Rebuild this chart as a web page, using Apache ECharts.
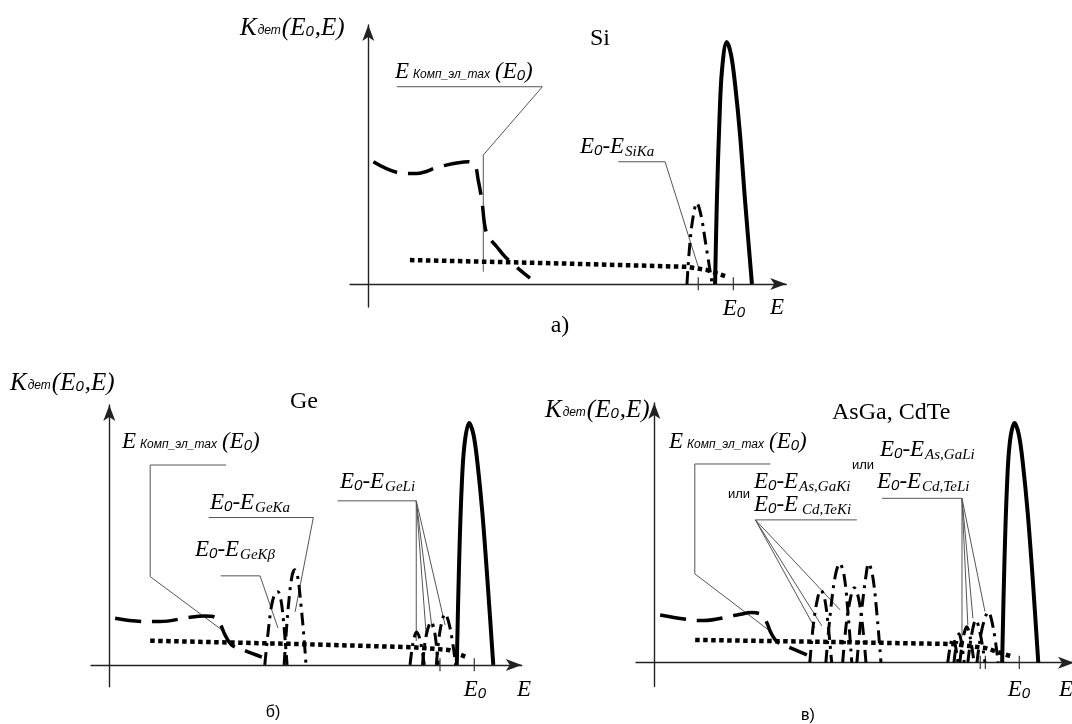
<!DOCTYPE html>
<html><head><meta charset="utf-8">
<script src="https://cdn.jsdelivr.net/npm/echarts@6/dist/echarts.min.js"></script>
<style>html,body{margin:0;padding:0;background:#fff}#c{width:1072px;height:724px}</style>
</head><body><div id="c"></div>
<script>
// ---------- Panel а) Si ----------
const siMainPeak = [[95.0,0],[95.5,34.7],[96.2,67.8],[96.9,88.4],[98.2,100],[99.4,94.6],[100.5,82.2],[101.8,62.4],[103.2,34.7],[105.1,0]];
const siCompton = [[1.4,50.5],[9.6,45.7],[13.3,45.7],[19.6,48.5],[27.4,50.5],[29.2,49.2],[30.1,43.0],[31.1,34.7],[32.4,21.0],[35.2,15.4],[37.9,10.6],[44.3,2.4]];
const siDots = [[11.4,9.9],[50,8.6],[87.2,7.1],[92.7,5.8],[98.2,3.0]];
const siEscapeKa = [[87.3,0],[88.0,15],[88.9,27],[90.0,33.5],[91.2,28],[92.4,17],[94.2,0]];
const siTicks = [90.4, 100];
const siLeaderCompton = [[7.8,81.5],[47.7,81.5],[31.5,53.3],[31.5,5.1]];
const siLeaderKa = [[68.5,50.5],[81.3,50.5],[90.4,7.1]];

// ---------- Panel б) Ge ----------
const geMainPeak = [[95.2,0],[95.8,40],[96.5,72],[97.3,91],[98.6,100],[99.8,95],[100.9,83],[102.2,63],[103.6,35],[105.2,0]];
const geCompton = [[1.6,19.3],[9.8,17.9],[13.9,17.9],[22.1,19.7],[26.2,20.2],[29.0,19.7],[30.3,17.2],[31.7,12.4],[33.5,8.3],[36.6,6.2],[41.8,3.2]];
const geDots = [[11.2,10.0],[50,8.7],[83.3,7.3],[92.9,6.2],[97.9,3.2]];
const geEscapeKb = [[42.6,0],[43.4,12],[44.4,24],[45.4,29.5],[46.2,30.2],[47.0,27],[47.8,17],[48.7,0]];
const geEscapeKa = [[47.9,0],[48.5,14],[49.3,28],[50.1,37],[50.8,39.3],[51.6,36.5],[52.5,25],[53.3,12],[53.9,0]];
const geEscapeL1 = [[82.4,0],[83.2,9],[84.2,13.6],[85.2,10],[86.3,0]];
const geEscapeL2 = [[85.8,0],[86.8,12],[88.2,17.8],[89.2,13],[90.1,0]];
const geEscapeL3 = [[89.6,0],[90.6,14],[92.0,21.1],[93.4,15],[94.9,0]];
const geTicks = [90.6, 100];
const geLeaderCompton = [[32.0,82.6],[11.2,82.6],[11.2,36.5],[30.8,14.5]];
const geLeaderKa = [[27.2,60.9],[55.9,60.9],[50.9,21.9]];
const geLeaderKb = [[30.5,36.8],[41.3,36.8],[46.2,15.3]];
const geLeaderL = [[62.5,67.8],[84.1,67.8],[84.1,9.9]];
const geLeaderLFan = [[86.8,12.8],[88.4,15.3],[92.0,16.5]];

// ---------- Panel в) AsGa, CdTe ----------
const asMainPeak = [[95.3,0],[95.9,40],[96.6,72],[97.4,91],[98.7,99],[99.9,94],[101.0,82],[102.3,62],[103.7,34],[105.2,0]];
const asCompton = [[1.6,19.7],[10.3,17.6],[13.5,17.4],[22.7,19.7],[26.8,20.7],[29.5,19.7],[30.9,16.3],[31.8,12.8],[33.6,8.7],[36.8,6.4],[41.8,3.2]];
const asDots = [[11.2,9.4],[50,8.5],[81.6,7.7],[90.6,6.1],[98.0,2.5]];
const asEscapeK1 = [[42.6,0],[43.6,16],[44.8,27],[45.6,30],[46.6,27],[47.6,16],[48.6,0]];
const asEscapeK2 = [[47.0,0],[48.2,20],[49.6,36],[50.8,41],[52.0,36],[53.1,20],[54.1,0]];
const asEscapeK3 = [[51.6,0],[52.6,16],[53.8,27],[54.8,31],[55.9,27],[57.0,16],[58.0,0]];
const asEscapeK4 = [[55.5,0],[56.7,20],[58.0,36],[58.7,41],[59.8,36],[61.0,20],[62.1,0]];
const asEscapeL1 = [[80.4,0],[81.1,7],[81.8,10.2],[82.5,7],[83.2,0]];
const asEscapeL2 = [[82.1,0],[82.8,8],[83.5,11.9],[84.2,8],[84.9,0]];
const asEscapeL3 = [[83.7,0],[84.6,10],[85.6,14.8],[86.6,10],[87.6,0]];
const asEscapeL4 = [[85.9,0],[87.0,12],[88.1,17.6],[89.3,12],[90.6,0]];
const asEscapeL5 = [[88.4,0],[89.8,14],[91.5,20.9],[92.9,14],[94.2,0]];
const asTicks = [89.3, 90.7, 100];
const asLeaderCompton = [[31.8,82.1],[11.1,82.1],[11.1,36.7],[31.3,13.5]];
const asLeaderK = [[55.5,59.0],[27.7,59.0]];
const asLeaderKFan = [[44.0,14.3],[45.9,15.2],[50.9,21.8]];
const asLeaderL = [[62.4,67.9],[84.3,67.9],[84.3,10.7]];
const asLeaderLFan = [[85.9,15.6],[87.3,18.3],[90.6,21.1]];

// ---------- layout ----------
const grids = [
  {left:350.05, top:25, width:436.2, height:282, xmin:-5, xmax:114.5, ymin:-9.5, ymax:107},
  {left:91.05, top:405, width:430.7, height:281.7, xmin:-5, xmax:113, ymin:-9.0, ymax:107.4},
  {left:636.05, top:403, width:438, height:283.6, xmin:-5, xmax:115, ymin:-9.9, ymax:107.3}
];

const series = [];
function curve(g, data, kind){
  const st = {
    main:{color:'#000', width:4, type:'solid'},
    compton:{color:'#000', width:3.5, type:[26,11]},
    dots:{color:'#000', width:4.5, type:[4.5,3.5]},
    dashdot:{color:'#000', width:3, type:[13,6,3,6]}
  }[kind];
  series.push({type:'line', xAxisIndex:g, yAxisIndex:g, data:data, symbol:'none', showSymbol:false,
    smooth: kind==='dots' ? false : 0.35, silent:true, animation:false, z: kind==='main'?5:3,
    lineStyle:{color:st.color, width:st.width, type:st.type, cap:'butt', join:'round'}});
}
function leader(g, coordsList){
  series.push({type:'lines', coordinateSystem:'cartesian2d', xAxisIndex:g, yAxisIndex:g, polyline:true,
    silent:true, animation:false, z:2,
    data: coordsList.map(c=>({coords:c})),
    lineStyle:{color:'#555', width:1, opacity:1, curveness:0}});
}
function ticks(g, xs){
  leader(g, xs.map(x=>[[x,-2.6],[x,2.8]]));
  series[series.length-1].lineStyle = {color:'#333', width:1.2, opacity:1};
}
function fan(origin, ends){ return ends.map(e=>[origin, e]); }

// Si
curve(0, siCompton, 'compton'); curve(0, siDots, 'dots'); curve(0, siEscapeKa, 'dashdot'); curve(0, siMainPeak, 'main');
leader(0, [siLeaderCompton, siLeaderKa]); ticks(0, siTicks);
// Ge
curve(1, geCompton, 'compton'); curve(1, geDots, 'dots');
[geEscapeKb, geEscapeKa, geEscapeL1, geEscapeL2, geEscapeL3].forEach(d=>curve(1, d, 'dashdot'));
curve(1, geMainPeak, 'main');
leader(1, [geLeaderCompton, geLeaderKa, geLeaderKb, geLeaderL].concat(fan(geLeaderL[1], geLeaderLFan)));
ticks(1, geTicks);
// AsGa
curve(2, asCompton, 'compton'); curve(2, asDots, 'dots');
[asEscapeK1, asEscapeK2, asEscapeK3, asEscapeK4, asEscapeL1, asEscapeL2, asEscapeL3, asEscapeL4, asEscapeL5].forEach(d=>curve(2, d, 'dashdot'));
curve(2, asMainPeak, 'main');
leader(2, [asLeaderCompton, asLeaderK, asLeaderL].concat(fan(asLeaderK[1], asLeaderKFan), fan(asLeaderL[1], asLeaderLFan)));
ticks(2, asTicks);

// ---------- text ----------
const FONTS = {
  M:{font:'italic 23px "Liberation Serif"', dy:0},
  K:{font:'italic 25px "Liberation Serif"', dy:0},
  Z:{font:'italic 15px "Liberation Sans"', dy:4},
  S:{font:'italic 15px "Liberation Serif"', dy:5},
  C:{font:'italic 12px "Liberation Sans"', dy:3},
  N:{font:'24px "Liberation Serif"', dy:0},
  T:{font:'24px "Liberation Serif"', dy:0},
  R:{font:'13px "Liberation Sans"', dy:0},
  P:{font:'16px "Liberation Sans"', dy:0}
};
const mctx = document.createElement('canvas').getContext('2d');
function tw(t, f){ mctx.font = f; return mctx.measureText(t).width; }
const graphics = [];
function label(x, cy, parts, anchor){
  const widths = parts.map(p=>tw(p[0], FONTS[p[1]].font) + (p[2]||0));
  const total = widths.reduce((a,b)=>a+b,0);
  let cx = anchor==='center' ? x - total/2 : x;
  parts.forEach((p,i)=>{
    graphics.push({type:'text', x:cx, y:cy + FONTS[p[1]].dy, silent:true,
      style:{text:p[0], font:FONTS[p[1]].font, fill:'#000', align:'left', verticalAlign:'middle'}});
    cx += widths[i];
  });
}
const KDET = [['K','K',1],['дет','C',1],['(','K'],['E','K'],['0','Z',1],[',','K'],['E','K'],[')','K']];
const KOMP = [['E','M',4],['Комп_эл_max','C',5],['(','M'],['E','M'],['0','Z'],[')','M']];
function esc(sub){ return [['E','M'],['0','Z'],['-','M'],['E','M',1],[sub,'S']]; }

// а) Si
label(240, 28, KDET);
label(590, 39, [['Si','N']]);
label(395, 72, KOMP);
label(580, 147, esc('SiKa'));
label(734, 309, [['E','M'],['0','Z']], 'center');
label(777, 308, [['E','M']], 'center');
label(560, 326, [['а)','N']], 'center');
// б) Ge
label(10, 383, KDET);
label(290, 402, [['Ge','N']]);
label(122, 442, KOMP);
label(210, 503, esc('GeKa'));
label(195, 550, esc('GeKβ'));
label(340, 482, esc('GeLi'));
label(475, 690, [['E','M'],['0','Z']], 'center');
label(524, 690, [['E','M']], 'center');
label(273, 713, [['б)','P']], 'center');
// в) AsGa, CdTe
label(545, 410, KDET);
label(832, 413, [['AsGa, CdTe','T']]);
label(669, 442, KOMP);
label(728, 494, [['или','R']]);
label(754, 482, esc('As,GaKi'));
label(754, 505, [['E','M'],['0','Z'],['-','M'],['E','M',4],['Cd,TeKi','S']]);
label(852, 465, [['или','R']]);
label(880, 450, esc('As,GaLi'));
label(877, 482, esc('Cd,TeLi'));
label(1019, 690, [['E','M'],['0','Z']], 'center');
label(1066, 690, [['E','M']], 'center');
label(808, 716, [['в)','P']], 'center');

// ---------- axes ----------
function axisLine(){ return {show:true, onZero:true, symbol:['none','arrow'], symbolSize:[9,16], lineStyle:{color:'#222', width:1.4}}; }
const option = {
  backgroundColor:'#fff',
  animation:false,
  grid: grids.map(g=>({left:g.left, top:g.top, width:g.width, height:g.height, containLabel:false, outerBoundsMode:'none'})),
  xAxis: grids.map((g,i)=>({gridIndex:i, type:'value', min:g.xmin, max:g.xmax, axisLine:axisLine(), axisTick:{show:false}, axisLabel:{show:false}, splitLine:{show:false}})),
  yAxis: grids.map((g,i)=>({gridIndex:i, type:'value', min:g.ymin, max:g.ymax, axisLine:axisLine(), axisTick:{show:false}, axisLabel:{show:false}, splitLine:{show:false}})),
  series: series,
  graphic: graphics
};
const chart = echarts.init(document.getElementById('c'), null, {renderer:'canvas'});
chart.setOption(option);
</script></body></html>
